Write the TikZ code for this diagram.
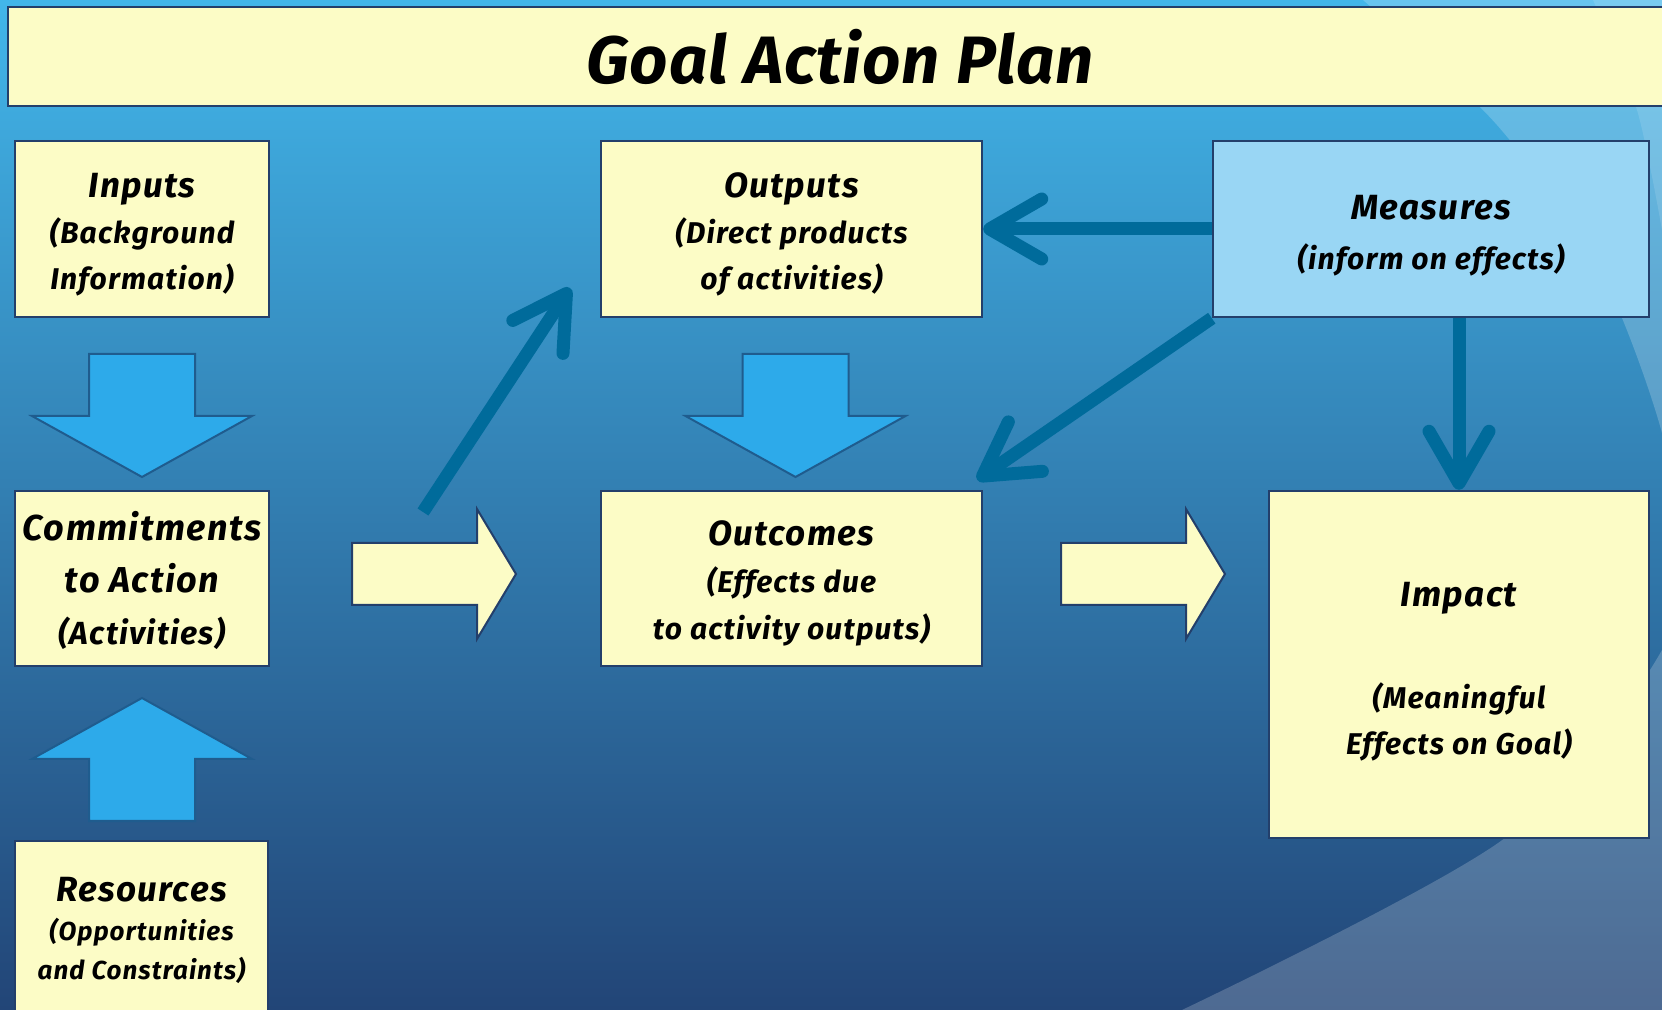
\documentclass[tikz,border=0pt]{standalone}
\usepackage{fontspec}
\setmainfont{Fira Sans}[LetterSpace=4]
\usetikzlibrary{arrows.meta,calc,positioning}
\definecolor{boxyellow}{HTML}{FCFCC6}
\definecolor{boxline}{HTML}{233F6B}
\definecolor{measblue}{HTML}{99D6F4}
\definecolor{blockblue}{HTML}{2DAAEA}
\definecolor{blockline}{HTML}{1F5C8E}
\definecolor{linkteal}{HTML}{006B9B}
\definecolor{bgtop}{HTML}{42B6EA}
\definecolor{bgmid}{HTML}{3285BA}
\definecolor{bgbot}{HTML}{224577}
\newcommand{\boxfont}[2]{\fontsize{#1}{#2}\selectfont\bfseries\itshape}
\newcommand{\topgap}[1]{\rule{0pt}{#1}}
\tikzstyle{linkarrow} = [line width=6.5pt,linkteal,-{Straight Barb[length=26pt,width=30pt,line cap=round,line join=round]}]
\tikzset{
box/.style={rectangle, draw=boxline, line width=1.2pt, fill=boxyellow, align=center, inner sep=0pt},
measbox/.style={box, fill=measblue},
downblock/.style={draw=blockline, line width=1pt, fill=blockblue},
rightblock/.style={draw=boxline, line width=1pt, fill=boxyellow}
}

\begin{document}
\begin{tikzpicture}[x=0.5pt,y=-0.5pt]

% background with the lighter swoosh on the right
\path[use as bounding box, top color=bgtop, middle color=bgmid, bottom color=bgbot] (0,0) rectangle (1662,1010);
\fill[white, opacity=0.2] plot[smooth] coordinates {(1363,0) (1497,125) (1600,270) (1662,433) (1672,540) (1662,650) (1505,838) (1182,1010)} -- (1700,1010) -- (1700,0) -- cycle;
\fill[white, opacity=0.12] plot[smooth] coordinates {(1593,0) (1637,110) (1662,230)} -- (1700,260) -- (1700,0) -- cycle;

% title bar
\node[box, minimum width=832pt, minimum height=49.5pt, font=\boxfont{33.5}{40}\addfontfeatures{LetterSpace=1.5}] (title) at (840,56.5) {Goal Action Plan};

% the boxes
\node[box, minimum width=127pt, minimum height=88pt, font=\boxfont{15}{23}] (inputs) at (142,229)
  {\topgap{18pt}{\fontsize{17.5}{23}\selectfont Inputs}\\(Background\\Information)};
\node[box, minimum width=127pt, minimum height=87.5pt, font=\boxfont{18}{26}] (commit) at (142,578.5)
  {\topgap{16.5pt}Commitments\\to Action\\{\fontsize{16}{26}\selectfont (Activities)}};
\node[box, minimum width=126.5pt, minimum height=89.5pt, font=\boxfont{13}{19.5}] (resources) at (141.5,930.5)
  {{\fontsize{17.5}{22}\selectfont Resources}\\(Opportunities\\and Constraints)};
\node[box, minimum width=190.5pt, minimum height=88pt, font=\boxfont{15}{23}] (outputs) at (791.5,229)
  {\topgap{18pt}{\fontsize{17.5}{23}\selectfont Outputs}\\(Direct products\\of activities)};
\node[box, minimum width=190.5pt, minimum height=87.5pt, font=\boxfont{15}{23.5}] (outcomes) at (791.5,578.5)
  {\topgap{17.5pt}{\fontsize{17.5}{23.5}\selectfont Outcomes}\\(Effects due\\to activity outputs)};
\node[measbox, minimum width=218pt, minimum height=88pt, font=\boxfont{15}{25}] (measures) at (1431,229)
  {\topgap{19pt}{\fontsize{17.5}{25}\selectfont Measures}\\(inform on effects)};
\node[box, minimum width=190pt, minimum height=173.5pt, font=\boxfont{15}{23}] (impact) at (1459,664.5)
  {\topgap{19pt}{\fontsize{17.5}{23}\selectfont Impact}\\[28pt](Meaningful\\Effects on Goal)};

% block arrows between the boxes
\foreach \cx in {142,795.5}
  \draw[downblock, shift={(\cx,354)}] (-53,0) -- (53,0) -- (53,62) -- (110,62) -- (0,123) -- (-110,62) -- (-53,62) -- cycle;
\draw[downblock, shift={(142,821)}, yscale=-1] (-53,0) -- (53,0) -- (53,62) -- (110,62) -- (0,123) -- (-110,62) -- (-53,62) -- cycle;
\foreach \cx in {352,1061}
  \draw[rightblock, shift={(\cx,574)}] (0,-31) -- (125,-31) -- (125,-65) -- (164,0) -- (125,65) -- (125,31) -- (0,31) -- cycle;

% line arrows
\coordinate (tail1) at (423,512);
\coordinate (head1) at (570,288);
\draw[linkarrow] (tail1) -- (head1);
\draw[linkarrow] (measures.west) -- (outputs.east);
\draw[linkarrow] (measures.south west) -- ($(outcomes.north east)+(-6,-10)$);
\draw[linkarrow] (impact.north |- measures.south) -- (impact.north);

\end{tikzpicture}
\end{document}
